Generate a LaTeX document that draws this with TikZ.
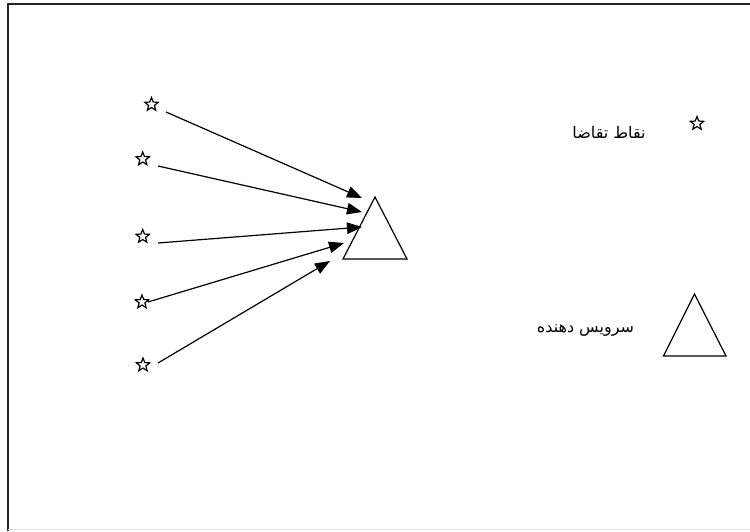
\documentclass[tikz,border=0pt]{standalone}
\usepackage{fontspec}
\newfontfamily\arabicfont[Script=Arabic]{DejaVu Sans}
\TeXXeTstate=1
\usetikzlibrary{shapes.geometric,arrows.meta}
\tikzset{
  demand/.style={star, star points=5, star point ratio=2.3, draw, line width=1.2pt,
    minimum size=14pt, inner sep=0pt},
  flow/.style={line width=1.2pt, -{Triangle[length=15pt,width=11.5pt]}},
  server/.style={line width=1.2pt, line join=miter},
  label/.style={font=\arabicfont\fontsize{16}{18}\selectfont, inner sep=0pt}
}
\begin{document}
\begin{tikzpicture}[x=1pt,y=-1pt]
  \useasboundingbox (0,0) rectangle (750,531);
  % page frame
  \draw[line width=2pt, black!85] (8,531) -- (8,4) -- (750,4);
  \draw[line width=1pt, black!12] (8,529.5) -- (750,529.5);

  % demand points
  \node[demand] (s1) at (151.5,104.5) {};
  \node[demand] (s2) at (142.7,159) {};
  \node[demand] (s3) at (142.7,236.5) {};
  \node[demand] (s4) at (142,302) {};
  \node[demand] (s5) at (143,365) {};

  % service provider
  \draw[server] (375,197) -- (407,259) -- (343,259) -- cycle;
  \coordinate (srv) at (375,238);

  % flows from demand points to the server
  \coordinate (a1) at (166,112);  \coordinate (b1) at (362,198);
  \coordinate (a2) at (158,166);  \coordinate (b2) at (362,212);
  \coordinate (a3) at (158,243);  \coordinate (b3) at (362,227);
  \coordinate (a4) at (148,302);  \coordinate (b4) at (344,243);
  \coordinate (a5) at (158,363);  \coordinate (b5) at (330,261);
  \foreach \i in {1,...,5} \draw[flow] (a\i) -- (b\i);

  % legend
  \node[demand] (ls) at (697,123.5) {};
  \node[label] (lt1) at (609,132) {\beginR نقاط تقاضا\endR};
  \draw[server] (694.5,294) -- (726,356) -- (663.5,356) -- cycle;
  \node[label] (lt2) at (585.5,331) {\beginR سرویس دهنده\endR};
\end{tikzpicture}
\end{document}
